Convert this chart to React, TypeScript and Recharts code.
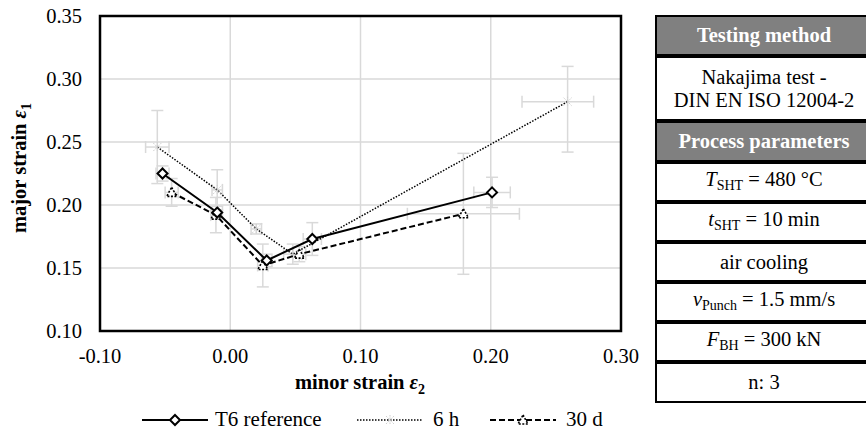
import React from "react";
import {
  CartesianGrid,
  ErrorBar,
  Legend,
  ReferenceArea,
  Scatter,
  ScatterChart,
  XAxis,
  YAxis,
} from "recharts";

const FONT = '"Liberation Serif", "Times New Roman", Times, serif';
const GRID = "#d9d9d9";
const FS = 20.5;

const xTicks = [-0.1, 0, 0.1, 0.2, 0.3];
const yTicks = [0.1, 0.15, 0.2, 0.25, 0.3, 0.35];

// T6 reference
const t6Minor = [-0.052, -0.01, 0.028, 0.063, 0.201];
const t6Major = [0.225, 0.194, 0.156, 0.173, 0.21];
const t6MinorErr = [0.005, 0.004, 0.004, 0.007, 0.014];
const t6MajorErr = [0.006, 0.005, 0.005, 0.013, 0.012];

// 6 h
const h6Minor = [-0.056, -0.01, 0.02, 0.048, 0.259];
const h6Major = [0.246, 0.212, 0.181, 0.161, 0.282];
const h6MinorErr: (number | number[])[] = [0.009, 0.004, 0.004, 0.007, [0.035, 0.02]];
const h6MajorErr: (number | number[])[] = [0.029, 0.016, 0.004, 0.008, [0.04, 0.028]];

// 30 d
const d30Minor = [-0.045, -0.011, 0.025, 0.053, 0.179];
const d30Major = [0.21, 0.192, 0.152, 0.161, 0.193];
const d30MinorErr = [0.005, 0.004, 0.004, 0.005, 0.043];
const d30MajorErr = [0.011, 0.014, 0.017, 0.006, 0.048];

const seriesNames = ["T6 reference", "6 h", "30 d"];

const tableRowEdges = [15, 56, 121, 162, 202, 242, 282, 322, 362, 403];

function build(xs: number[], ys: number[], exs: any[], eys: any[]) {
  return xs.map((x, i) => ({ x, y: ys[i], ex: exs[i], ey: eys[i] }));
}

const t6Data = build(t6Minor, t6Major, t6MinorErr, t6MajorErr);
const h6Data = build(h6Minor, h6Major, h6MinorErr, h6MajorErr);
const d30Data = build(d30Minor, d30Major, d30MinorErr, d30MajorErr);

const Diamond = ({ cx, cy }: any) => (
  <path
    d={`M${cx},${cy - 5} L${cx + 5},${cy} L${cx},${cy + 5} L${cx - 5},${cy} Z`}
    fill="#fff"
    stroke="#000"
    strokeWidth={2}
  />
);

const Triangle = ({ cx, cy }: any) => (
  <path
    d={`M${cx},${cy - 5} L${cx + 5},${cy + 4} L${cx - 5},${cy + 4} Z`}
    fill="#fff"
    stroke="#000"
    strokeWidth={1.6}
    strokeDasharray="2 1.5"
  />
);

const Star = ({ cx, cy }: any) => (
  <g stroke="#cfcfcf" strokeWidth={1} strokeDasharray="1.5 1">
    <line x1={cx - 4} y1={cy - 4} x2={cx + 4} y2={cy + 4} />
    <line x1={cx - 4} y1={cy + 4} x2={cx + 4} y2={cy - 4} />
    <line x1={cx} y1={cy - 5} x2={cx} y2={cy + 5} />
  </g>
);

const legendItems = [
  { name: seriesNames[0], left: 142, dash: undefined, width: 2, Mark: Diamond, textLeft: 215 },
  { name: seriesNames[1], left: 357, dash: "1.5 1.5", width: 1.5, Mark: Star, textLeft: 433 },
  { name: seriesNames[2], left: 490, dash: "6 3", width: 2, Mark: Triangle, textLeft: 566 },
];

function LegendContent() {
  return (
    <div style={{ position: "relative", width: 650, height: 36, fontFamily: FONT, fontSize: 21 }}>
      {legendItems.map((it) => (
        <React.Fragment key={it.name}>
          <svg
            width={68}
            height={16}
            style={{ position: "absolute", left: it.left, top: 10, overflow: "visible" }}
          >
            <line x1={0} y1={8} x2={66} y2={8} stroke="#000" strokeWidth={it.width} strokeDasharray={it.dash} />
            <it.Mark cx={33} cy={8} />
          </svg>
          <span style={{ position: "absolute", left: it.textLeft, top: 5, lineHeight: "24px" }}>{it.name}</span>
        </React.Fragment>
      ))}
    </div>
  );
}

const subStyle: React.CSSProperties = { fontSize: 14, verticalAlign: "-4px" };

const tableCells: { head?: boolean; content: React.ReactNode }[] = [
  { head: true, content: "Testing method" },
  {
    content: (
      <>
        Nakajima test -<br />
        DIN EN ISO 12004-2
      </>
    ),
  },
  { head: true, content: "Process parameters" },
  {
    content: (
      <>
        <i>T</i>
        <span style={subStyle}>SHT</span> = 480 °C
      </>
    ),
  },
  {
    content: (
      <>
        <i>t</i>
        <span style={subStyle}>SHT</span> = 10 min
      </>
    ),
  },
  { content: "air cooling" },
  {
    content: (
      <>
        <i>v</i>
        <span style={subStyle}>Punch</span> = 1.5 mm/s
      </>
    ),
  },
  {
    content: (
      <>
        <i>F</i>
        <span style={subStyle}>BH</span> = 300 kN
      </>
    ),
  },
  { content: "n: 3" },
];

function ParamTable() {
  return (
    <div style={{ position: "absolute", left: 655, top: 0 }}>
      {tableCells.map((c, i) => {
        const top = tableRowEdges[i];
        const h = tableRowEdges[i + 1] - top;
        return (
          <div
            key={i}
            style={{
              position: "absolute",
              left: 0,
              top,
              width: 232,
              height: h,
              boxSizing: "border-box",
              border: "2.5px solid #000",
              paddingRight: 14,
              background: c.head ? "#808080" : "#fff",
              color: c.head ? "#fff" : "#000",
              fontWeight: c.head ? "bold" : "normal",
              fontFamily: FONT,
              fontSize: FS,
              display: "flex",
              alignItems: "center",
              justifyContent: "center",
              textAlign: "center",
              lineHeight: "23px",
            }}
          >
            <div>{c.content}</div>
          </div>
        );
      })}
    </div>
  );
}

const fmt = (v: number) => v.toFixed(2);

export default function App() {
  return (
    <div
      style={{
        position: "absolute",
        left: 0,
        top: 0,
        width: 866,
        height: 438,
        overflow: "hidden",
        background: "#fff",
      }}
    >
      <ScatterChart
        width={650}
        height={438}
        margin={{ top: 16, right: 29, bottom: 0, left: 0 }}
        style={{ fontFamily: FONT }}
      >
        <CartesianGrid stroke={GRID} strokeWidth={1.5} />
        <XAxis
          type="number"
          dataKey="x"
          domain={[-0.1, 0.3]}
          ticks={xTicks}
          tickFormatter={fmt}
          axisLine={false}
          tickLine={false}
          tickSize={0}
          tickMargin={17}
          height={71}
          tick={{ fill: "#000", fontSize: FS, fontFamily: FONT }}
          label={{
            content: () => (
              <text x={360} y={389} textAnchor="middle" fontFamily={FONT} fontSize={FS} fontWeight="bold">
                minor strain <tspan fontStyle="italic">ε</tspan>
                <tspan fontSize={14} dy={5}>2</tspan>
              </text>
            ),
          }}
        />
        <YAxis
          type="number"
          dataKey="y"
          domain={[0.1, 0.35]}
          ticks={yTicks}
          tickFormatter={fmt}
          axisLine={false}
          tickLine={false}
          tickSize={0}
          tickMargin={18}
          width={100}
          tick={{ fill: "#000", fontSize: FS, fontFamily: FONT }}
          label={{
            content: () => (
              <text
                x={26}
                y={168}
                textAnchor="middle"
                transform="rotate(-90, 26, 168)"
                fontFamily={FONT}
                fontSize={FS}
                fontWeight="bold"
              >
                major strain <tspan fontStyle="italic">ε</tspan>
                <tspan fontSize={14} dy={5}>1</tspan>
              </text>
            ),
          }}
        />
        <ReferenceArea x1={-0.1} x2={0.3} y1={0.1} y2={0.35} fill="none" stroke="#000" strokeWidth={2.5} />
        <Legend verticalAlign="bottom" height={36} wrapperStyle={{ left: 0, bottom: 0, width: 650 }} content={LegendContent} />
        <Scatter
          name={seriesNames[1]}
          data={h6Data}
          line={{ stroke: "#000", strokeWidth: 1.5, strokeDasharray: "1.5 1.5" }}
          shape={Star}
          isAnimationActive={false}
        >
          <ErrorBar dataKey="ex" direction="x" width={6} stroke={GRID} strokeWidth={1.5} />
          <ErrorBar dataKey="ey" direction="y" width={6} stroke={GRID} strokeWidth={1.5} />
        </Scatter>
        <Scatter
          name={seriesNames[2]}
          data={d30Data}
          line={{ stroke: "#000", strokeWidth: 2, strokeDasharray: "6 3" }}
          shape={Triangle}
          isAnimationActive={false}
        >
          <ErrorBar dataKey="ex" direction="x" width={6} stroke={GRID} strokeWidth={1.5} />
          <ErrorBar dataKey="ey" direction="y" width={6} stroke={GRID} strokeWidth={1.5} />
        </Scatter>
        <Scatter
          name={seriesNames[0]}
          data={t6Data}
          line={{ stroke: "#000", strokeWidth: 2 }}
          shape={Diamond}
          isAnimationActive={false}
        >
          <ErrorBar dataKey="ex" direction="x" width={6} stroke={GRID} strokeWidth={1.5} />
          <ErrorBar dataKey="ey" direction="y" width={6} stroke={GRID} strokeWidth={1.5} />
        </Scatter>
      </ScatterChart>
      <ParamTable />
    </div>
  );
}
